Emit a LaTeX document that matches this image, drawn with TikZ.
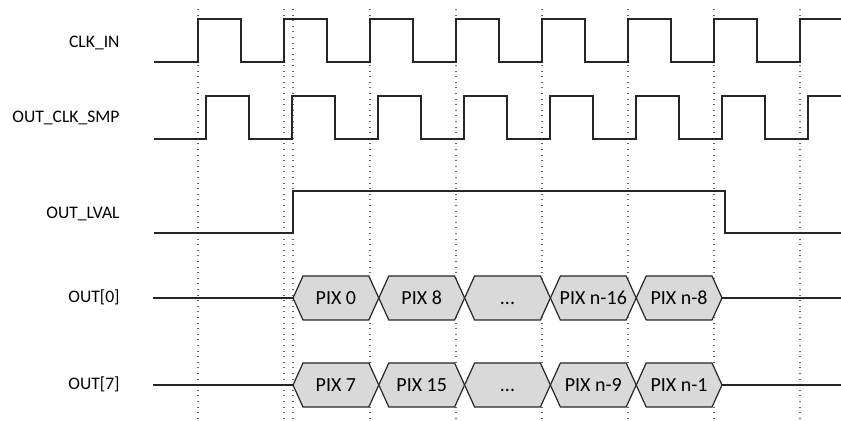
\documentclass[tikz,border=0pt]{standalone}
\usepackage{fontspec}
\setmainfont{Carlito}
\usepackage{tikz}
\usetikzlibrary{positioning}
\definecolor{cellgray}{HTML}{D9D9D9}
\newcommand{\pixdots}{...}

\begin{document}
\begin{tikzpicture}[x=0.5pt,y=-0.5pt,
        wave/.style={draw=black!85,line width=0.65pt},
        tick/.style={draw=black!60,line width=0.55pt,dash pattern=on 0.5pt off 2.3pt},
        cell/.style={draw=black!85,fill=cellgray,line width=0.6pt},
        sig/.style={anchor=base east,inner sep=0pt,font=\fontsize{8.8}{10.5}\selectfont},
        pix/.style={anchor=base,inner sep=0pt,font=\fontsize{10}{12}\selectfont}]
  \useasboundingbox (0,0) rectangle (841,421);

  % dotted time marks
  \foreach \t in {198,284,...,800} \draw[tick] (\t,9) -- (\t,421);
  \draw[tick] (293,9) -- (293,421);

  % signal names
  \node[sig] (clk_in)  at (120,47.3)  {CLK\_IN};
  \node[sig] (clk_smp) at (120,122.3) {OUT\_CLK\_SMP};
  \node[sig] (lval)    at (120,218.3) {OUT\_LVAL};
  \node[sig] (out0)    at (120,303)   {OUT[0]};
  \node[sig] (out7)    at (120,389.5) {OUT[7]};

  % clocks and line valid
  \draw[wave] (154,62) foreach \t in {198,284,...,714} { -- (\t,62) -- (\t,19) -- (\t+43,19) -- (\t+43,62) }
              -- (800,62) -- (800,19) -- (841,19);
  \draw[wave] (154,139) foreach \t in {206,292,...,722} { -- (\t,139) -- (\t,96) -- (\t+43,96) -- (\t+43,139) }
              -- (808,139) -- (808,96) -- (841,96);
  \draw[wave] (154,233) -- (293,233) -- (293,191) -- (725,191) -- (725,233) -- (841,233);

  % data buses
  \foreach \i/\txt in {0/PIX 0,1/PIX 8,2/\pixdots,3/PIX n-16,4/PIX n-8} {
    \pgfmathsetmacro\a{293+85.8*\i}
    \pgfmathsetmacro\b{\a+85.8}
    \draw[cell] (\a,298) -- (\a+10,276) -- (\b-10,276) -- (\b,298) -- (\b-10,320) -- (\a+10,320) -- cycle;
    \node[pix] (pix0_\i) at ({(\a+\b)/2},304.5) {\txt};
  }
  \foreach \i/\txt in {0/PIX 7,1/PIX 15,2/\pixdots,3/PIX n-9,4/PIX n-1} {
    \pgfmathsetmacro\a{293+85.8*\i}
    \pgfmathsetmacro\b{\a+85.8}
    \draw[cell] (\a,385) -- (\a+10,363) -- (\b-10,363) -- (\b,385) -- (\b-10,407) -- (\a+10,407) -- cycle;
    \node[pix] (pix7_\i) at ({(\a+\b)/2},391.5) {\txt};
  }
  \coordinate (bus0_l) at (153,298);
  \coordinate (bus0_a) at (293,298);
  \coordinate (bus0_b) at (722,298);
  \coordinate (bus0_r) at (841,298);
  \coordinate (bus7_l) at (153,385);
  \coordinate (bus7_a) at (293,385);
  \coordinate (bus7_b) at (722,385);
  \coordinate (bus7_r) at (841,385);
  \draw[wave] (bus0_l) -- (bus0_a) (bus0_b) -- (bus0_r);
  \draw[wave] (bus7_l) -- (bus7_a) (bus7_b) -- (bus7_r);
\end{tikzpicture}
\end{document}
